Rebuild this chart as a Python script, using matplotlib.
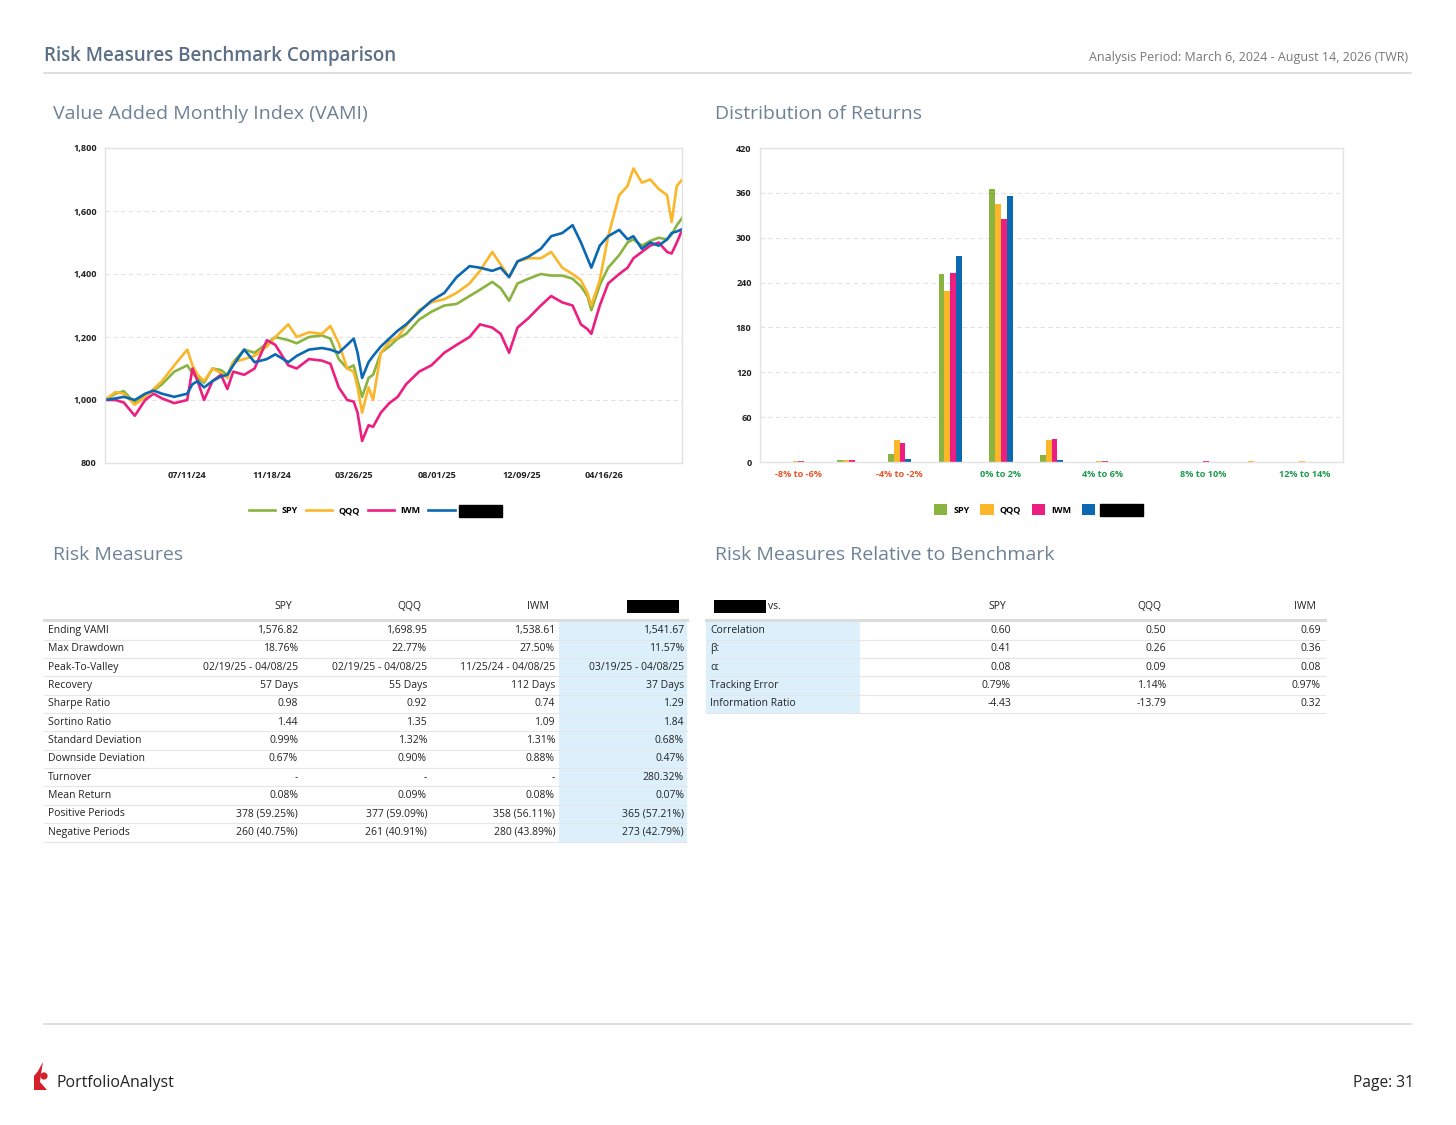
import matplotlib
matplotlib.use('Agg')
import matplotlib.pyplot as plt
import pandas as pd
from matplotlib.patches import Rectangle, Polygon, Circle

plt.rcParams['font.family'] = ['Open Sans', 'Noto Sans', 'DejaVu Sans']

# ---- VAMI data ----
vami_dates = ['2024-03-06', '2024-03-22', '2024-04-04', '2024-04-21', '2024-05-07', '2024-05-20',
              '2024-06-02', '2024-06-21', '2024-07-11', '2024-07-19', '2024-07-27', '2024-08-06',
              '2024-08-19', '2024-09-01', '2024-09-11', '2024-09-20', '2024-10-07', '2024-10-23',
              '2024-11-11', '2024-11-24', '2024-12-14', '2024-12-27', '2025-01-15', '2025-02-04',
              '2025-02-17', '2025-03-02', '2025-03-15', '2025-03-25', '2025-03-31', '2025-04-07',
              '2025-04-17', '2025-04-24', '2025-05-06', '2025-05-19', '2025-06-01', '2025-06-14',
              '2025-07-04', '2025-07-23', '2025-08-12', '2025-08-31', '2025-09-20', '2025-10-06',
              '2025-10-25', '2025-11-07', '2025-11-20', '2025-12-03', '2025-12-20', '2026-01-08',
              '2026-01-24', '2026-02-10', '2026-02-26', '2026-03-11', '2026-03-21', '2026-03-27',
              '2026-04-09', '2026-04-22', '2026-05-09', '2026-05-22', '2026-05-31', '2026-06-13',
              '2026-06-26', '2026-07-09', '2026-07-22', '2026-07-29', '2026-08-06', '2026-08-14']

spy_vami = [1000, 1020, 1028, 990, 1015, 1030, 1050, 1090, 1110, 1085, 1070, 1055,
            1100, 1095, 1080, 1120, 1160, 1150, 1180, 1200, 1190, 1180, 1200, 1205,
            1195, 1130, 1100, 1110, 1060, 1010, 1070, 1080, 1150, 1170, 1195, 1210,
            1255, 1280, 1300, 1305, 1330, 1350, 1375, 1355, 1315, 1370, 1385, 1400,
            1395, 1395, 1385, 1360, 1330, 1285, 1365, 1420, 1460, 1500, 1510, 1490,
            1505, 1515, 1510, 1525, 1555, 1577]

qqq_vami = [1000, 1025, 1020, 985, 1010, 1035, 1060, 1110, 1160, 1110, 1080, 1060,
            1100, 1085, 1070, 1120, 1130, 1140, 1170, 1200, 1240, 1200, 1215, 1210,
            1235, 1180, 1100, 1090, 1040, 960, 1040, 1000, 1150, 1185, 1200, 1235,
            1285, 1310, 1320, 1340, 1370, 1410, 1470, 1430, 1390, 1440, 1450, 1450,
            1470, 1420, 1400, 1380, 1340, 1300, 1380, 1520, 1650, 1680, 1735, 1690,
            1700, 1670, 1650, 1565, 1680, 1699]

iwm_vami = [1000, 1000, 992, 950, 1000, 1020, 1005, 990, 1000, 1100, 1060, 1000,
            1060, 1080, 1035, 1090, 1080, 1100, 1190, 1175, 1110, 1100, 1130, 1125,
            1115, 1040, 1000, 995, 960, 870, 920, 915, 960, 990, 1010, 1050,
            1090, 1110, 1150, 1175, 1200, 1240, 1230, 1210, 1150, 1230, 1260, 1300,
            1330, 1310, 1300, 1240, 1225, 1210, 1300, 1370, 1400, 1420, 1450, 1470,
            1490, 1500, 1470, 1465, 1500, 1539]

port_vami = [1000, 1005, 1010, 1000, 1020, 1030, 1020, 1010, 1020, 1050, 1060, 1040,
             1060, 1075, 1080, 1110, 1160, 1120, 1130, 1145, 1120, 1140, 1160, 1165,
             1160, 1150, 1175, 1195, 1150, 1070, 1120, 1140, 1170, 1195, 1220, 1240,
             1280, 1315, 1340, 1390, 1425, 1420, 1410, 1420, 1390, 1440, 1455, 1480,
             1520, 1530, 1555, 1500, 1450, 1420, 1490, 1520, 1540, 1510, 1520, 1480,
             1500, 1490, 1510, 1530, 1535, 1542]

vami_ticks = ['2024-07-11', '2024-11-18', '2025-03-26', '2025-08-01', '2025-12-09', '2026-04-16']
vami_yticks = [800, 1000, 1200, 1400, 1600, 1800]

# ---- Distribution of returns ----
dist_bins = ['-8% to -6%', '-6% to -4%', '-4% to -2%', '-2% to 0%', '0% to 2%', '2% to 4%',
             '4% to 6%', '6% to 8%', '8% to 10%', '10% to 12%', '12% to 14%']
dist_spy = [0, 3, 11, 251, 365, 9, 0, 0, 0, 0, 0]
dist_qqq = [1, 3, 30, 229, 345, 30, 1, 0, 0, 1, 1]
dist_iwm = [1, 3, 25, 253, 325, 31, 1, 0, 1, 0, 0]
dist_port = [0, 0, 4, 276, 356, 3, 0, 0, 0, 0, 0]
dist_yticks = [0, 60, 120, 180, 240, 300, 360, 420]

# ---- Risk measures table ----
rm_labels = ['Ending VAMI', 'Max Drawdown', 'Peak-To-Valley', 'Recovery', 'Sharpe Ratio', 'Sortino Ratio',
             'Standard Deviation', 'Downside Deviation', 'Turnover', 'Mean Return', 'Positive Periods',
             'Negative Periods']
rm_spy = ['1,576.82', '18.76%', '02/19/25 - 04/08/25', '57 Days', '0.98', '1.44', '0.99%', '0.67%', '-',
          '0.08%', '378 (59.25%)', '260 (40.75%)']
rm_qqq = ['1,698.95', '22.77%', '02/19/25 - 04/08/25', '55 Days', '0.92', '1.35', '1.32%', '0.90%', '-',
          '0.09%', '377 (59.09%)', '261 (40.91%)']
rm_iwm = ['1,538.61', '27.50%', '11/25/24 - 04/08/25', '112 Days', '0.74', '1.09', '1.31%', '0.88%', '-',
          '0.08%', '358 (56.11%)', '280 (43.89%)']
rm_port = ['1,541.67', '11.57%', '03/19/25 - 04/08/25', '37 Days', '1.29', '1.84', '0.68%', '0.47%',
           '280.32%', '0.07%', '365 (57.21%)', '273 (42.79%)']

rel_labels = ['Correlation', 'β:', 'α:', 'Tracking Error', 'Information Ratio']
rel_spy = ['0.60', '0.41', '0.08', '0.79%', '-4.43']
rel_qqq = ['0.50', '0.26', '0.09', '1.14%', '-13.79']
rel_iwm = ['0.69', '0.36', '0.08', '0.97%', '0.32']

series_names = ['SPY', 'QQQ', 'IWM', 'Portfolio']
colors = ['#8ab43f', '#fbb62a', '#ec1f80', '#0b68b3']

W, H = 1456, 1125
fig = plt.figure(figsize=(W / 100, H / 100), dpi=100)
fig.patch.set_facecolor('white')

page = fig.add_axes([0, 0, 1, 1], zorder=0)
page.set_xlim(0, W)
page.set_ylim(H, 0)
page.axis('off')


def ax_rect(left, top, right, bottom):
    return [left / W, 1 - bottom / H, (right - left) / W, (bottom - top) / H]


title_col = '#5b6f86'
sec_col = '#6d8197'

# header / footer
page.text(44, 56, 'Risk Measures Benchmark Comparison', fontsize=13.5, fontweight='semibold',
          color=title_col, va='center', ha='left')
page.text(1408, 58, 'Analysis Period: March 6, 2024 - August 14, 2026 (TWR)', fontsize=9,
          color='#777777', va='center', ha='right')
page.plot([44, 1411], [73, 73], color='#d9d9d9', lw=1.2)
page.plot([44, 1411], [1024, 1024], color='#d9d9d9', lw=1.2)

page.text(53, 114, 'Value Added Monthly Index (VAMI)', fontsize=14, color=sec_col, va='center')
page.text(715, 114, 'Distribution of Returns', fontsize=14, color=sec_col, va='center')
page.text(53, 555, 'Risk Measures', fontsize=14, color=sec_col, va='center')
page.text(715, 555, 'Risk Measures Relative to Benchmark', fontsize=14, color=sec_col, va='center')

# logo + footer text
page.add_patch(Polygon([(34, 1090), (34, 1076), (38, 1071), (43, 1062), (41, 1074), (40, 1082),
                        (47, 1090)], closed=True, color='#d4202a', lw=0))
page.add_patch(Circle((44, 1076), 3.6, color='#d4202a', lw=0))
page.text(56, 1083, 'PortfolioAnalyst', fontsize=11.4, color='#222222', va='center')
page.text(1414, 1083, 'Page: 31', fontsize=11.2, color='#222222', va='center', ha='right')

tick_kw = dict(fontsize=6.6, fontweight='bold', color='#222222')

# ---- VAMI chart ----
ax1 = fig.add_axes(ax_rect(105, 148, 682, 463), zorder=2)
dates = pd.to_datetime(vami_dates)
for vals, name, c in zip([spy_vami, qqq_vami, iwm_vami, port_vami], series_names, colors):
    ax1.plot(dates, vals, color=c, lw=1.9, label=name)
ax1.set_xlim(pd.Timestamp('2024-03-06'), pd.Timestamp('2026-08-14'))
ax1.set_ylim(800, 1800)
ax1.set_yticks(vami_yticks)
ax1.set_yticklabels([f'{v:,}' for v in vami_yticks], **tick_kw)
tick_dates = pd.to_datetime(vami_ticks)
ax1.set_xticks(tick_dates)
ax1.set_xticklabels([d.strftime('%m/%d/%y') for d in tick_dates], **tick_kw)
ax1.grid(axis='y', color='#e2e2e2', ls=(0, (4, 3)), lw=0.8)
ax1.set_axisbelow(True)

# ---- Distribution chart ----
ax2 = fig.add_axes(ax_rect(760, 148, 1343, 462), zorder=2)
bw = 0.115
xs = range(len(dist_bins))
for k, (vals, name, c) in enumerate(zip([dist_spy, dist_qqq, dist_iwm, dist_port], series_names, colors)):
    ax2.bar([x + (k - 1.5) * bw for x in xs], vals, width=bw, color=c, label=name, lw=0)
ax2.set_xlim(-0.76, len(dist_bins) - 0.24)
ax2.set_ylim(0, 420)
ax2.set_yticks(dist_yticks)
ax2.set_yticklabels([str(v) for v in dist_yticks], **tick_kw)
ax2.set_xticks(list(xs)[::2])
ax2.set_xticklabels(dist_bins[::2], fontsize=6.6, fontweight='bold')
for lab in ax2.get_xticklabels():
    lab.set_color('#e5562a' if lab.get_text().startswith('-') else '#1d9a4e')
ax2.grid(axis='y', color='#e2e2e2', ls=(0, (4, 3)), lw=0.8)
ax2.set_axisbelow(True)

for ax in (ax1, ax2):
    for s in ax.spines.values():
        s.set_color('#e3e3e3')
        s.set_linewidth(1)
    ax.tick_params(length=0, pad=6)

leg1 = ax1.legend(loc='center', bbox_to_anchor=(0.467, -0.152), ncol=4, frameon=False,
                  prop={'size': 6.5, 'weight': 'bold'}, handlelength=2.9, handletextpad=0.7,
                  columnspacing=0.9)
leg2 = ax2.legend(loc='center', bbox_to_anchor=(0.476, -0.152), ncol=4, frameon=False,
                  prop={'size': 6.5, 'weight': 'bold'}, handlelength=1.45, handleheight=1.45,
                  handletextpad=0.7, columnspacing=1.2)
for leg in (leg1, leg2):
    t = leg.get_texts()[3]
    t.set_color('black')
    t.set_bbox(dict(facecolor='black', edgecolor='black', pad=1.2))

# ---- Risk Measures table ----
row0, rh = 630.5, 18.35
fs = 7.5
tc = '#222222'
n = len(rm_labels)
page.add_patch(Rectangle((559, 621), 128, rh * n + 1, color='#dcf0fc', lw=0))
page.plot([44, 687], [619.5, 619.5], color='#dcdcdc', lw=2.2)
col_r = [298, 427, 555, 684]
for j, name in enumerate(series_names[:3]):
    page.text(col_r[j] - 6, 606.5, name, fontsize=fs, color=tc, ha='right', va='center')
page.add_patch(Rectangle((627, 600), 52, 13, color='black', lw=0))
for i in range(n):
    y = row0 + i * rh
    page.text(48, y, rm_labels[i], fontsize=fs, color=tc, va='center')
    for j, col in enumerate([rm_spy, rm_qqq, rm_iwm, rm_port]):
        page.text(col_r[j], y, col[i], fontsize=fs, color=tc, ha='right', va='center')
    page.plot([44, 687], [y + rh / 2, y + rh / 2], color='#e6e6e6', lw=0.8)

# ---- Relative table ----
m = len(rel_labels)
page.add_patch(Rectangle((706, 621), 154, rh * m + 1, color='#dcf0fc', lw=0))
page.plot([706, 1325], [619.5, 619.5], color='#dcdcdc', lw=2.2)
page.add_patch(Rectangle((714, 600), 52, 13, color='black', lw=0))
page.text(768, 606.5, 'vs.', fontsize=fs, color=tc, va='center')
rel_r = [1011, 1166, 1321]
for j, name in enumerate(series_names[:3]):
    page.text(rel_r[j] - 5, 606.5, name, fontsize=fs, color=tc, ha='right', va='center')
for i in range(m):
    y = row0 + i * rh
    page.text(710, y, rel_labels[i], fontsize=fs, color=tc, va='center')
    for j, col in enumerate([rel_spy, rel_qqq, rel_iwm]):
        page.text(rel_r[j], y, col[i], fontsize=fs, color=tc, ha='right', va='center')
    page.plot([706, 1325], [y + rh / 2, y + rh / 2], color='#e6e6e6', lw=0.8)

fig.savefig('out.png', dpi=100, facecolor='white')
